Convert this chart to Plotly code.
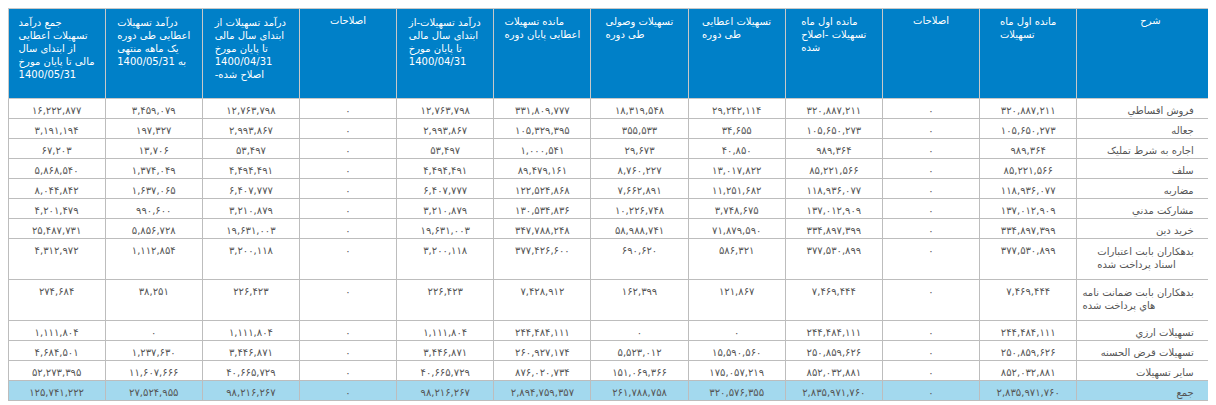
import plotly.graph_objects as go

# شرح ردیف ها
sharh = ["فروش اقساطي", "جعاله", "اجاره به شرط تمليک", "سلف", "مضاربه", "مشارکت مدني",
         "خريد دين", "بدهکاران بابت اعتبارات<br>اسناد پرداخت شده",
         "بدهکاران بابت ضمانت نامه<br>هاي پرداخت شده", "تسهيلات ارزي",
         "تسهيلات قرض الحسنه", "ساير تسهيلات", "جمع"]

mande_aval = [320887211, 105650273, 989364, 85221566, 118936077, 137012909, 334897399,
              377530899, 7469444, 244484111, 250859626, 852032881, 2835971760]
eslahat_1 = [0] * 13
mande_aval_eslah = [320887211, 105650273, 989364, 85221566, 118936077, 137012909, 334897399,
                    377530899, 7469444, 244484111, 250859626, 852032881, 2835971760]
etayi = [29242114, 34655, 40850, 13017822, 11251682, 3748675, 71879590,
         586321, 121867, 0, 15590560, 175057219, 320576355]
vosuli = [18319548, 355533, 29673, 8760227, 7662891, 10226748, 58988741,
          690620, 162399, 0, 5523012, 151069366, 261788758]
mande_payan = [331809777, 105329395, 1000541, 89479161, 122524868, 130534836, 347788248,
               377426600, 7428912, 244484111, 260927174, 876020734, 2894759357]
daramad_0431 = [12763798, 2993867, 53497, 4494491, 6407777, 3210879, 19631003,
                3200118, 226423, 1111804, 3446871, 40665729, 98216267]
eslahat_2 = [0] * 13
daramad_eslah = [12763798, 2993867, 53497, 4494491, 6407777, 3210879, 19631003,
                 3200118, 226423, 1111804, 3446871, 40665729, 98216267]
daramad_mah = [3459079, 197327, 13706, 1374049, 1637065, 990600, 5856728,
               1112854, 38251, 0, 1237630, 11607666, 27524955]
jam_daramad = [16222877, 3191194, 67203, 5868540, 8044842, 4201479, 25487731,
               4312972, 274684, 1111804, 4684501, 52273395, 125741222]

headers = ["شرح", "مانده اول ماه<br>تسهیلات", "اصلاحات", "مانده اول ماه<br>تسهیلات -اصلاح<br>شده",
           "تسهیلات اعطایی<br>طی دوره", "تسهیلات وصولی<br>طی دوره", "مانده تسهیلات<br>اعطایی پایان دوره",
           "درآمد تسهیلات-از<br>ابتدای سال مالی<br>تا پایان مورخ<br>1400/04/31", "اصلاحات",
           "درآمد تسهیلات از<br>ابتدای سال مالی<br>تا پایان مورخ<br>1400/04/31<br>-اصلاح شده",
           "درآمد تسهیلات<br>اعطایی طی دوره<br>یک ماهه منتهی<br>به 1400/05/31",
           "جمع درآمد<br>تسهیلات اعطایی<br>از ابتدای سال<br>مالی تا پایان مورخ<br>1400/05/31"]

fa = str.maketrans("0123456789", "۰۱۲۳۴۵۶۷۸۹")


def fmt(vals):
    return [f"{v:,}".translate(fa) for v in vals]


# فاصله اضافه برای جلوگیری از بریده شدن متن راست چین
sharh_txt = ["<br>".join(s + "\u00a0" * 7 for s in t.split("<br>")) for t in sharh]

cols = [sharh_txt] + [fmt(c) for c in [mande_aval, eslahat_1, mande_aval_eslah, etayi, vosuli,
                                       mande_payan, daramad_0431, eslahat_2, daramad_eslah,
                                       daramad_mah, jam_daramad]]
widths = [147] + [97] * 11

# ترتیب راست به چپ
cols = cols[::-1]
headers = headers[::-1]
widths = widths[::-1]

row_fill = ["white"] * 12 + ["#a3d9ee"]
fills = [row_fill] * len(cols)
aligns = ["center"] * 11 + ["right"]

fig = go.Figure(go.Table(
    columnwidth=widths,
    header=dict(values=headers, fill_color="#0080c8", line_color="#c8c8c8",
                font=dict(family="DejaVu Sans", size=10, color="white"),
                align="center", height=90),
    cells=dict(values=cols, fill_color=fills, line_color="#bdbdbd",
               font=dict(family="DejaVu Sans", size=10, color="#555555"),
               align=aligns, height=20),
))
fig.update_layout(width=1216, height=405, margin=dict(l=0, r=0, t=0, b=0),
                  paper_bgcolor="white")
fig.write_html("out.html")
